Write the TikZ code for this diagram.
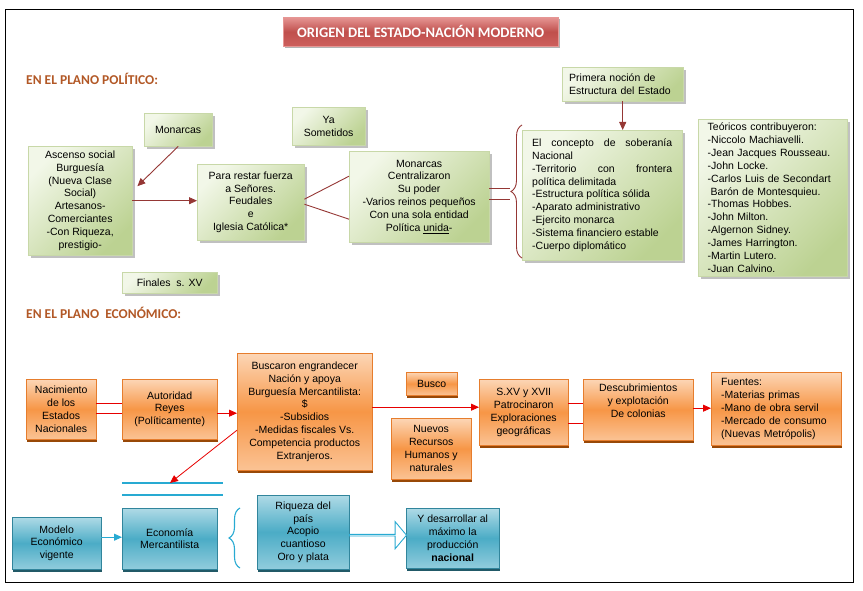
\documentclass[tikz,border=0pt]{standalone}
\usepackage{fontspec}
\setmainfont{Liberation Sans}
\newfontfamily\calib{Carlito}
\usepackage{tikz}
\usetikzlibrary{arrows.meta,shadows,shapes.arrows,decorations.pathreplacing,calc}

\definecolor{grnA}{RGB}{242,247,232}
\definecolor{grnB}{RGB}{188,210,146}
\definecolor{grnLine}{RGB}{200,216,168}
\definecolor{orgA}{RGB}{252,214,182}
\definecolor{orgB}{RGB}{247,150,70}
\definecolor{orgLine}{RGB}{230,125,45}
\definecolor{orgShd}{RGB}{152,72,7}
\definecolor{bluA}{RGB}{175,218,230}
\definecolor{bluB}{RGB}{75,172,198}
\definecolor{bluLine}{RGB}{49,133,156}
\definecolor{bluShd}{RGB}{33,89,103}
\definecolor{redA}{RGB}{230,150,148}
\definecolor{redB}{RGB}{192,80,77}
\definecolor{redC}{RGB}{205,95,92}
\definecolor{polRed}{RGB}{149,55,53}
\definecolor{ecoRed}{RGB}{230,0,0}
\definecolor{lineBlu}{RGB}{40,170,210}
\definecolor{headBrown}{RGB}{178,88,38}

\tikzset{
  txt/.style={font=\fontsize{10.5}{12.9}\selectfont},
  gbase/.style={txt, draw=grnLine, top color=grnA, bottom color=grnB, shading angle=45,
    anchor=north west, inner sep=2pt,
    drop shadow={fill=black!55, opacity=.45, shadow xshift=2.5pt, shadow yshift=-2.5pt}},
  gbox/.style={gbase, align=center},
  obox/.style={txt, draw=orgLine, top color=orgA, bottom color=orgA!70!orgB, middle color=orgB,
    anchor=north west, inner sep=2pt, align=center,
    drop shadow={fill=orgShd, opacity=1, shadow xshift=1pt, shadow yshift=-2.5pt}},
  bbox/.style={txt, draw=bluLine, top color=bluA, bottom color=bluA!70!bluB, middle color=bluB,
    anchor=north west, inner sep=2pt, align=center,
    drop shadow={fill=bluShd, opacity=1, shadow xshift=1pt, shadow yshift=-2.5pt}},
  ttl/.style={font=\calib\bfseries\fontsize{14.5}{17}\selectfont, text=white, draw=redA,
    top color=redA, bottom color=redC, middle color=redB, anchor=north west,
    drop shadow={fill=black!60, opacity=.5, shadow xshift=1.5pt, shadow yshift=-2pt}},
  hd/.style={font=\calib\bfseries\fontsize{13.5}{16}\selectfont, text=headBrown, anchor=west, inner sep=0pt},
  parrow/.style={draw=polRed, line width=.9pt, -{Triangle[length=8pt,width=7pt]}},
  pline/.style={draw=polRed, line width=.9pt},
  earrow/.style={draw=ecoRed, line width=.8pt, -{Triangle[length=8pt,width=7pt]}},
  eline/.style={draw=ecoRed, line width=.8pt},
  barrow/.style={draw=lineBlu, line width=.9pt, -{Triangle[length=8pt,width=7pt]}},
  bline/.style={draw=lineBlu, line width=1.2pt},
}

\begin{document}
\begin{tikzpicture}[x=1pt,y=-1pt]
\useasboundingbox (0,0) rectangle (863,591);
\draw[line width=.9pt] (5,9) rectangle (853,582);

% Titulo
\node[ttl, minimum width=275pt, minimum height=29pt] (title) at (283,17) {ORIGEN DEL ESTADO-NACIÓN MODERNO};

% Plano politico
\node[hd] (hpol) at (26,79) {EN EL PLANO POLÍTICO:};
\node[gbox, minimum width=68pt, minimum height=33pt] (mon) at (144,113) {Monarcas};
\node[gbox, minimum width=73pt, minimum height=38pt] (som) at (292,107) {Ya\\Sometidos};
\node[gbox, minimum width=104pt, minimum height=109pt] (asc) at (28,146)
  {Ascenso social\\Burguesía\\(Nueva Clase\\Social)\\Artesanos-\\Comerciantes\\-Con Riqueza,\\prestigio-};
\node[gbox, minimum width=107pt, minimum height=76pt] (para) at (197,164)
  {Para restar fuerza\\a Señores.\\Feudales\\e\\Iglesia Católica*};
\node[gbox, minimum width=140pt, minimum height=91pt] (mcen) at (349,151)
  {Monarcas\\Centralizaron\\Su poder\\-Varios reinos pequeños\\Con una sola entidad\\Política \underline{unida}-};
\node[gbase, minimum width=160pt, minimum height=130pt] (conc) at (522,130)
  {\parbox{140pt}{El concepto de soberanía\linebreak Nacional\\
  -Territorio con frontera\linebreak política delimitada\\
  -Estructura política sólida\\
  -Aparato administrativo\\
  -Ejercito monarca\\
  -Sistema financiero estable\\
  -Cuerpo diplomático}};
\node[gbase, text width=107pt, inner xsep=7pt, align=left, minimum height=34pt] (prim) at (562,67)
  {Primera noción de\\Estructura del Estado};
\node[gbase, text width=130pt, inner xsep=9.5pt, align=left, minimum height=157pt] (teor) at (698,119)
  {Teóricos contribuyeron:\\-Niccolo Machiavelli.\\-Jean Jacques Rousseau.\\-John Locke.\\-Carlos Luis de Secondart\\\hspace*{3pt}Barón de Montesquieu.\\-Thomas Hobbes.\\-John Milton.\\-Algernon Sidney.\\-James Harrington.\\-Martin Lutero.\\-Juan Calvino.};
\node[gbox, minimum width=95pt, minimum height=21pt] (fin) at (122,272) {Finales\ \ s. XV};

\coordinate (bp) at (510,193);
\draw[parrow] (mon.south) -- ([xshift=5pt,yshift=14.5pt]asc.east);
\draw[parrow] (asc.east) -- (asc.east -| para.west);
\draw[pline] ([yshift=3pt]para.east) -- ([yshift=20.5pt]mcen.west);
\draw[pline] ([yshift=-2pt]para.east) -- ([yshift=-22.5pt]mcen.west);
\draw[pline] ([yshift=8.5pt]mcen.east) -- ([yshift=8.5pt]mcen.east -| bp);
\draw[pline] ([yshift=-2.5pt]mcen.east) -- ([yshift=-2.5pt]mcen.east -| bp);
\draw[draw=polRed, line width=.9pt, decorate, decoration={brace, amplitude=11pt}] (522,258) -- (522,125);
\draw[parrow] (prim.south) -- (prim.south |- conc.north);

% Plano economico
\node[hd] (heco) at (26,313) {EN EL PLANO\ \ ECONÓMICO:};
\node[obox, minimum width=70pt, minimum height=60pt] (nac) at (26,379) {Nacimiento\\de los\\Estados\\Nacionales};
\node[obox, minimum width=95pt, minimum height=60pt] (aut) at (122,379) {Autoridad\\Reyes\\(Políticamente)};
\node[obox, minimum width=135pt, minimum height=117pt] (bus) at (237,353)
  {Buscaron engrandecer\\Nación y apoya\\Burguesía Mercantilista:\\\$\\-Subsidios\\-Medidas fiscales Vs.\\Competencia productos\\Extranjeros.};
\node[obox, minimum width=51pt, minimum height=23pt] (busco) at (406,372) {Busco};
\node[obox, minimum width=80pt, minimum height=61pt] (nuev) at (391,418) {Nuevos\\Recursos\\Humanos y\\naturales};
\node[obox, minimum width=89pt, minimum height=66pt] (sxv) at (479,379) {S.XV y XVII\\Patrocinaron\\Exploraciones\\geográficas};
\node[obox, minimum width=110pt, minimum height=61pt] (desc) at (583,379) {Descubrimientos\\y explotación\\De colonias\\[5pt]};
\node[obox, text width=110pt, inner xsep=10pt, align=left, minimum height=73pt] (fue) at (711,372)
  {Fuentes:\\-Materias primas\\-Mano de obra servil\\-Mercado de consumo\\(Nuevas Metrópolis)};

\draw[eline] ([yshift=6pt]nac.east) -- ([yshift=6pt]nac.east -| aut.west);
\draw[eline] ([yshift=-4pt]nac.east) -- ([yshift=-4pt]nac.east -| aut.west);
\draw[earrow] ([yshift=-4pt]aut.east) -- ([yshift=-4pt]aut.east -| bus.west);
\draw[earrow] ([yshift=4.5pt]bus.east) -- ([yshift=4.5pt]bus.east -| sxv.west);
\draw[eline] ([yshift=9pt]sxv.east) -- ([yshift=9pt]sxv.east -| desc.west);
\draw[eline] ([yshift=-11pt]sxv.east) -- ([yshift=-11pt]sxv.east -| desc.west);
\draw[earrow] ([yshift=1.5pt]desc.east) -- ([yshift=1.5pt]desc.east -| fue.west);

% Modelo economico
\coordinate (ln1a) at (122,483);
\coordinate (ln1b) at (223,483);
\coordinate (ln2a) at (122,495);
\coordinate (ln2b) at (223,495);
\coordinate (hit) at (170,483);
\draw[bline] (ln1a) -- (ln1b);
\draw[bline] (ln2a) -- (ln2b);
\draw[earrow] ([yshift=-18.5pt]bus.west) -- (hit);

\node[bbox, minimum width=89pt, minimum height=52pt] (mod) at (12,517) {Modelo\\Económico\\vigente};
\node[bbox, minimum width=95pt, minimum height=61pt] (ecm) at (122,508) {Economía\\Mercantilista};
\node[bbox, minimum width=92pt, minimum height=74pt] (riq) at (257,495) {Riqueza del\\país\\Acopio\\cuantioso\\Oro y plata};
\node[bbox, minimum width=93pt, minimum height=60pt] (ydes) at (406,508)
  {Y desarrollar al\\máximo la\\producción\\\textbf{nacional}};

\draw[barrow] ([yshift=6pt]mod.east) -- ([yshift=6pt]mod.east -| ecm.west);
\draw[draw=lineBlu, line width=1.1pt, decorate, decoration={brace, amplitude=11pt}] (240,568) -- (240,508);
\node[single arrow, draw=lineBlu, fill=white, line width=.9pt, inner sep=0pt,
  minimum height=57pt, minimum width=27pt, single arrow head extend=7.5pt,
  single arrow tip angle=100] (harr) at ($(riq.east)!.5!(ydes.west)$) {};
\end{tikzpicture}
\end{document}
